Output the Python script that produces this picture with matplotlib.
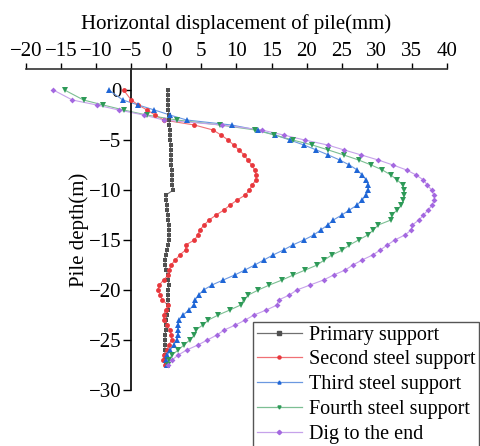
import matplotlib
matplotlib.use("Agg")
import matplotlib.pyplot as plt
import numpy as np

plt.rcParams['font.family'] = ['Liberation Serif', 'DejaVu Serif']
plt.rcParams['axes.unicode_minus'] = True

# ---------------- data (x: displacement mm, y: depth m) ----------------
primary_depth = [0, -0.5, -1, -1.5, -2, -2.5, -3, -3.5, -4, -4.5, -5, -5.5, -6, -6.5, -7, -7.5, -8, -8.5,
                 -9, -9.5, -10, -10.5, -11, -11.5, -12, -12.5, -13, -13.5, -14, -14.5, -15, -15.5, -16,
                 -16.5, -17, -17.5, -18, -18.5, -19, -19.5, -20, -20.5, -21, -21.5, -22, -22.5, -23,
                 -23.5, -24, -24.5, -25, -25.5, -26, -26.5, -27, -27.5]
primary_disp = [0.2, 0.2, 0.2, 0.25, 0.3, 0.35, 0.4, 0.45, 0.5, 0.5, 0.55, 0.6, 0.6, 0.65, 0.7, 0.7, 0.75,
                0.8, 0.8, 0.85, 1.0, -0.05, 0.0, 0.05, 0.1, 0.2, 0.3, 0.35, 0.35, 0.4, 0.35, 0.3, 0.1,
                -0.1, -0.2, -0.15, 0.0, 0.2, 0.3, 0.35, 0.3, 0.2, 0.2, 0.3, 0.2, 0.1, 0.0, 0.0, -0.1,
                -0.15, -0.2, -0.2, -0.2, -0.2, -0.15, -0.1]

second_depth = [0, -1, -1.5, -2, -2.5, -3, -3.5, -4, -4.5, -5, -5.5, -6, -6.5, -7, -7.5, -8, -8.5, -9,
                -9.5, -10, -10.5, -11, -11.5, -12, -12.5, -13, -13.5, -14, -14.5, -15, -15.5, -16,
                -16.5, -17, -17.5, -18, -18.5, -19, -19.5, -20, -20.5, -21, -21.5, -22, -22.5, -23,
                -23.5, -24, -24.5, -25, -25.5, -26, -26.5, -27, -27.5]
second_disp = [-6.1, -5.0, -4.0, -2.75, -1.6, -0.4, 4.0, 6.65, 7.8, 8.8, 9.6, 10.35, 11.1, 11.6, 12.15,
               12.6, 12.8, 12.75, 12.25, 11.85, 11.25, 10.1, 9.1, 8.2, 7.1, 6.1, 5.4, 4.75, 4.5, 4.0,
               2.75, 2.75, 1.9, 1.3, 0.65, 0.45, 0.3, -0.4, -1.0, -1.2, -0.85, -0.6, 0.25, -0.1, -0.4,
               -0.4, 0.1, 0.5, 0.7, 0.75, 0.33, 0.1, -0.38, -0.45, -0.15]

third_depth = [0, -1, -1.5, -2, -2.5, -3, -3.5, -4, -4.5, -5, -5.5, -6, -6.5, -7, -7.5, -8, -8.5, -9,
               -9.5, -10, -10.5, -11, -11.5, -12, -12.5, -13, -13.5, -14, -14.5, -15, -15.5, -16,
               -16.5, -17, -17.5, -18, -18.5, -19, -19.5, -20, -20.5, -21, -21.5, -22, -22.5, -23,
               -23.5, -24, -24.5, -25, -25.5, -26, -26.5, -27, -27.5]
third_disp = [-8.2, -6.2, -4.0, -1.7, 0.5, 2.9, 9.3, 13.0, 15.5, 17.6, 19.6, 21.4, 23.1, 24.7, 26.1, 27.2,
              27.9, 28.5, 28.8, 28.8, 28.5, 27.9, 27.2, 26.1, 25.0, 23.8, 23.0, 22.0, 21.0, 19.6, 18.0,
              16.7, 15.2, 13.9, 12.6, 11.2, 9.75, 8.1, 6.5, 5.3, 4.6, 4.1, 3.95, 3.2, 2.4, 1.8, 1.7,
              1.66, 1.66, 1.5, 1.04, 0.57, 0.15, 0.0, 0.1]

fourth_depth = [0, -1, -1.5, -2, -2.5, -3, -3.5, -4, -4.5, -5, -5.5, -6, -6.5, -7, -7.5, -8, -8.5, -9,
                -9.5, -10, -10.5, -11, -11.5, -12, -12.5, -13, -13.5, -14, -14.5, -15, -15.5, -16,
                -16.5, -17, -17.5, -18, -18.5, -19, -19.5, -20, -20.5, -21, -21.5, -22, -22.5, -23,
                -23.5, -24, -24.5, -25, -25.5, -26, -26.5, -27, -27.5]
fourth_disp = [-14.5, -11.8, -9.0, -6.1, -2.8, 1.5, 7.6, 12.7, 15.4, 18.0, 20.8, 23.1, 25.3, 27.4, 29.2,
               30.8, 32.0, 32.9, 33.7, 33.9, 33.9, 33.8, 33.5, 32.9, 32.1, 32.0, 30.2, 29.5, 28.7,
               27.4, 26.1, 25.1, 23.6, 22.5, 21.5, 19.8, 18.1, 16.5, 14.7, 13.1, 11.7, 11.0, 10.6,
               9.05, 7.4, 6.0, 5.2, 4.2, 4.0, 3.35, 2.5, 1.7, 0.8, 0.35, 0.2]

dig_depth = [0, -1, -1.5, -2, -2.5, -3, -3.5, -4, -4.5, -5, -5.5, -6, -6.5, -7, -7.5, -8, -8.5, -9,
             -9.5, -10, -10.5, -11, -11.5, -12, -12.5, -13, -13.5, -14, -14.5, -15, -15.5, -16,
             -16.5, -17, -17.5, -18, -18.5, -19, -19.5, -20, -20.5, -21, -21.5, -22, -22.5, -23,
             -23.5, -24, -24.5, -25, -25.5, -26, -26.5, -27, -27.5]
dig_disp = [-16.1, -13.4, -9.9, -6.8, -3.2, -0.4, 7.9, 13.6, 16.7, 19.7, 23.0, 25.35, 27.8, 30.2, 32.3,
            34.25, 35.6, 36.65, 37.2, 37.8, 38.15, 38.2, 37.9, 37.3, 36.65, 36.0, 35.05, 34.9, 34.0,
            32.55, 31.5, 30.5, 29.4, 27.9, 26.6, 25.5, 23.85, 22.4, 20.5, 18.6, 17.55, 16.0, 15.8,
            14.25, 12.5, 11.25, 9.85, 8.25, 7.2, 5.85, 4.5, 2.9, 1.7, 0.8, 0.3]

series_labels = ["Primary support", "Second steel support", "Third steel support",
                 "Fourth steel support", "Dig to the end"]

x_ticks = [-20, -15, -10, -5, 0, 5, 10, 15, 20, 25, 30, 35, 40]
y_ticks = [0, -5, -10, -15, -20, -25, -30]

# ---------------- figure ----------------
W, H = 481, 446
fig = plt.figure(figsize=(W / 100, H / 100), dpi=100)
ax = fig.add_axes([26 / W, 1 - 390 / H, (447 - 26) / W, (390 - 69) / H])

styles = [
    dict(color='#505050', lc='#707070', marker='s', ms=3.0),
    dict(color='#e8383d', lc='#f07075', marker='o', ms=3.5),
    dict(color='#1f66d6', lc='#6b98e0', marker='^', ms=4.0),
    dict(color='#2e9a58', lc='#7cbf93', marker='v', ms=4.0),
    dict(color='#a468e0', lc='#c6a2ea', marker='D', ms=3.0),
]
data = [(primary_disp, primary_depth), (second_disp, second_depth), (third_disp, third_depth),
        (fourth_disp, fourth_depth), (dig_disp, dig_depth)]

handles = []
for (xd, yd), st, lab in zip(data, styles, series_labels):
    ax.plot(xd, yd, color=st['lc'], lw=0.8, zorder=2)
    ax.plot(xd, yd, ls='none', marker=st['marker'], ms=st['ms'], color=st['color'],
            markeredgewidth=0.0, zorder=3)
    h, = ax.plot([], [], color=st['lc'], lw=0.9, marker=st['marker'], ms=2.2,
                 markerfacecolor=st['color'], markeredgecolor=st['color'], label=lab)
    handles.append(h)

ax.set_xlim(-20, 40)
ax.set_ylim(-30, 2.1)

ax.spines['right'].set_visible(False)
ax.spines['bottom'].set_visible(False)
ax.spines['left'].set_position(('data', -5))
ax.spines['left'].set_linewidth(1.2)
ax.spines['top'].set_linewidth(1.2)
ax.spines['top'].set_color('#333333')

ax.xaxis.tick_top()
ax.xaxis.set_label_position('top')
ax.set_xticks(x_ticks)
ax.set_yticks(y_ticks)
ax.tick_params(axis='x', direction='out', length=4, width=1, labelsize=15, pad=2)
ax.tick_params(axis='y', direction='out', length=6, width=1, labelsize=15, pad=1)

ax.set_xlabel("Horizontal displacement of pile(mm)", fontsize=15, labelpad=9)
ax.set_ylabel("Pile depth(m)", fontsize=15)
ax.yaxis.set_label_coords((89 - 26) / 421, 0.5)

leg = fig.legend(handles=handles, loc='upper left', bbox_to_anchor=(253 / W, 1 - 322 / H),
                 bbox_transform=fig.transFigure, fontsize=14.5, frameon=True, fancybox=False,
                 edgecolor='#555555', framealpha=1, borderaxespad=0, handlelength=2.25,
                 handletextpad=0.35, labelspacing=0.28, borderpad=0.18)
leg.get_frame().set_linewidth(1.0)

fig.savefig("out.png", dpi=100)
